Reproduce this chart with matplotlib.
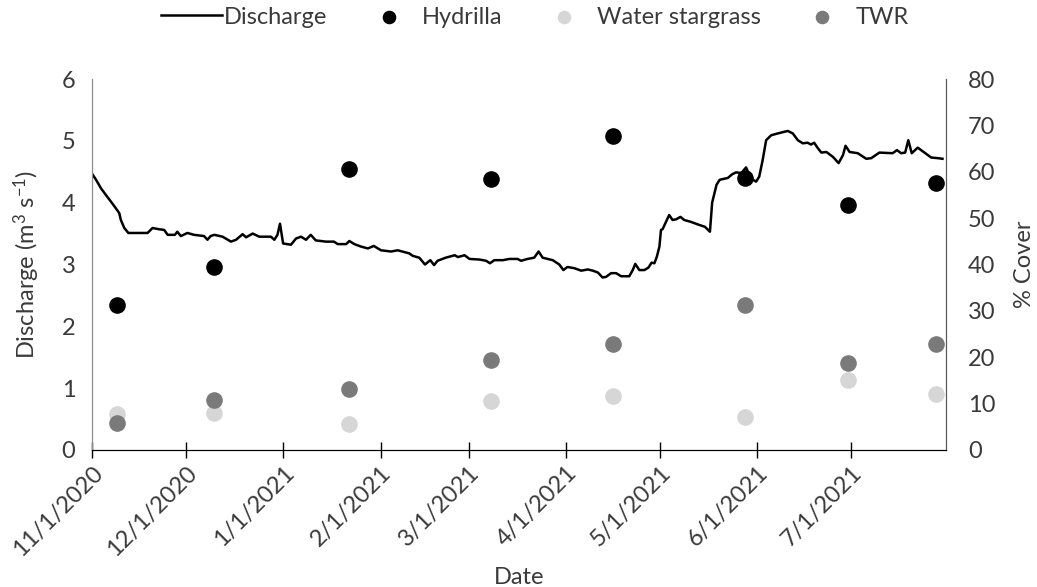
import matplotlib
matplotlib.use('Agg')
import matplotlib.pyplot as plt
import matplotlib.dates as mdates
import numpy as np
import pandas as pd

plt.rcParams['font.family'] = ['Lato', 'DejaVu Sans']
plt.rcParams['mathtext.fontset'] = 'custom'
plt.rcParams['mathtext.rm'] = 'Lato'
plt.rcParams['mathtext.it'] = 'Lato:italic'

# discharge record (days after 11/1/2020, m3/s)
start = pd.Timestamp('2020-11-01')
q_days = [0, 1.3, 2.9, 4.5, 6.0, 7.6, 8.7, 9.2, 10.3, 11.6, 17.7, 19.3, 21.4,
          23.0, 24.1, 26.4, 27.2, 28.3, 30.4, 32.5, 35.7, 36.8, 37.8, 39.0,
          41.6, 44.3, 45.9, 48.0, 49.1, 51.2, 53.3, 57.0, 58.1, 59.1, 59.9,
          60.9, 63.4, 65.0, 66.6, 68.2, 69.7, 71.3, 74.5, 77.1, 78.3, 81.0,
          82.0, 83.6, 85.7, 87.9, 89.8, 92.1, 95.3, 97.4, 101.1, 102.2, 104.3,
          106.1, 107.8, 109.0, 110.1, 112.7, 115.6, 116.6, 118.7, 120.3,
          123.5, 125.6, 126.8, 128.2, 130.9, 133.0, 135.6, 136.7, 138.8,
          140.9, 142.3, 143.6, 145.2, 146.8, 148.9, 150.2, 151.5, 153.7,
          155.9, 158.0, 159.6, 161.2, 162.7, 163.8, 165.4, 167.0, 168.6,
          171.2, 172.3, 173.1, 174.4, 176.0, 177.3, 178.3, 179.2, 180.0,
          180.8, 181.3, 181.8, 182.9, 183.9, 185.0, 186.1, 187.5, 188.7,
          190.8, 193.5, 195.3, 196.9, 197.6, 199.0, 200.0, 202.6, 204.0,
          205.2, 206.9, 208.4, 210.0, 211.6, 212.6, 213.7, 214.8, 216.4,
          218.5, 221.7, 223.3, 224.9, 226.5, 228.0, 229.1, 230.1, 231.3,
          232.4, 234.0, 236.1, 237.9, 239.3, 240.1, 241.4, 244.0, 246.7,
          248.3, 250.9, 255.1, 256.5, 257.8, 259.1, 260.1, 261.2, 263.1,
          265.0, 267.4, 269.5, 271.0]
q_vals = [4.47, 4.37, 4.23, 4.12, 4.02, 3.91, 3.83, 3.72, 3.59, 3.51, 3.51,
          3.59, 3.57, 3.56, 3.48, 3.48, 3.53, 3.46, 3.51, 3.48, 3.46, 3.40,
          3.46, 3.48, 3.45, 3.37, 3.40, 3.49, 3.44, 3.50, 3.45, 3.45, 3.40,
          3.48, 3.66, 3.34, 3.32, 3.42, 3.45, 3.40, 3.48, 3.39, 3.37, 3.37,
          3.33, 3.33, 3.38, 3.33, 3.29, 3.26, 3.30, 3.23, 3.21, 3.23, 3.18,
          3.14, 3.11, 3.00, 3.07, 2.99, 3.06, 3.11, 3.15, 3.12, 3.15, 3.09,
          3.08, 3.06, 3.02, 3.07, 3.07, 3.09, 3.09, 3.06, 3.09, 3.11, 3.21,
          3.11, 3.09, 3.07, 3.00, 2.91, 2.96, 2.94, 2.90, 2.92, 2.90, 2.87,
          2.79, 2.80, 2.86, 2.86, 2.81, 2.81, 2.91, 3.01, 2.91, 2.91, 2.95,
          3.03, 3.02, 3.13, 3.29, 3.56, 3.57, 3.69, 3.80, 3.72, 3.73, 3.77,
          3.72, 3.69, 3.64, 3.61, 3.53, 4.00, 4.29, 4.37, 4.40, 4.46, 4.49,
          4.48, 4.57, 4.39, 4.34, 4.42, 4.69, 5.01, 5.09, 5.12, 5.16, 5.12,
          5.01, 4.96, 4.97, 4.94, 4.97, 4.88, 4.81, 4.82, 4.74, 4.64, 4.77,
          4.92, 4.82, 4.80, 4.71, 4.72, 4.81, 4.80, 4.85, 4.80, 4.81, 5.01,
          4.80, 4.89, 4.82, 4.73, 4.72, 4.71]

# survey dates and percent cover
survey_dates = ['2020-11-09', '2020-12-10', '2021-01-22', '2021-03-08',
                '2021-04-16', '2021-05-28', '2021-06-30', '2021-07-28']
hydrilla = [31.3, 39.5, 60.6, 58.4, 67.7, 58.6, 52.8, 57.6]
stargrass = [7.7, 8.0, 5.5, 10.6, 11.7, 7.1, 15.2, 12.0]
twr = [5.8, 10.8, 13.2, 19.4, 22.8, 31.3, 18.8, 22.8]

tick_dates = ['2020-11-01', '2020-12-01', '2021-01-01', '2021-02-01',
              '2021-03-01', '2021-04-01', '2021-05-01', '2021-06-01',
              '2021-07-01']

q_t = start + pd.to_timedelta(q_days, unit='D')
s_t = pd.to_datetime(survey_dates)

txt = '#3a3a3a'
fs = 17
fig = plt.figure(figsize=(10.37, 5.87), dpi=100)
ax = fig.add_axes([0.0887, 0.2334, 0.8232, 0.632])
ax2 = ax.twinx()

ln, = ax.plot(q_t, q_vals, color='black', lw=1.8, label='Discharge')
h = ax2.scatter(s_t, hydrilla, s=120, color='black', label='Hydrilla', zorder=3)
w = ax2.scatter(s_t, stargrass, s=120, color='#d6d6d6', label='Water stargrass', zorder=3)
t = ax2.scatter(s_t, twr, s=120, color='#7a7a7a', label='TWR', zorder=4)

ax.set_xlim(pd.Timestamp('2020-11-01'), pd.Timestamp('2021-07-31'))
ax.set_ylim(0, 6)
ax2.set_ylim(0, 80)
ax.set_yticks(np.arange(0, 7, 1))
ax2.set_yticks(np.arange(0, 81, 10))

ax.set_xticks(pd.to_datetime(tick_dates))
ax.xaxis.set_major_formatter(mdates.DateFormatter('%-m/%-d/%Y'))
for lab in ax.get_xticklabels():
    lab.set_rotation(45)
    lab.set_ha('right')
    lab.set_rotation_mode('anchor')

ax.tick_params(axis='x', direction='inout', length=12, width=1, colors='black',
               labelsize=fs, labelcolor=txt, pad=3)
ax.tick_params(axis='y', length=0, labelsize=fs, labelcolor=txt, pad=12)
ax2.tick_params(axis='y', length=0, labelsize=fs, labelcolor=txt, pad=16)

for a in (ax, ax2):
    a.spines['top'].set_visible(False)
    a.spines['left'].set_color('#8c8c8c')
    a.spines['right'].set_color('#595959')
    a.spines['bottom'].set_color('black')

ax.set_ylabel('Discharge (m$^{3}$ s$^{-1}$)', fontsize=fs, color=txt, labelpad=14)
ax2.set_ylabel('% Cover', fontsize=fs, color=txt, labelpad=13)
ax.set_xlabel('Date', fontsize=fs, color=txt, labelpad=5)

fig.legend(handles=[ln, h, w, t], loc='center', bbox_to_anchor=(0.5155, 0.971),
           ncol=4, frameon=False, fontsize=fs, handlelength=2.6,
           columnspacing=1.3, handletextpad=0.1, markerscale=0.8,
           labelcolor=txt)

fig.savefig('out.png', dpi=100)
